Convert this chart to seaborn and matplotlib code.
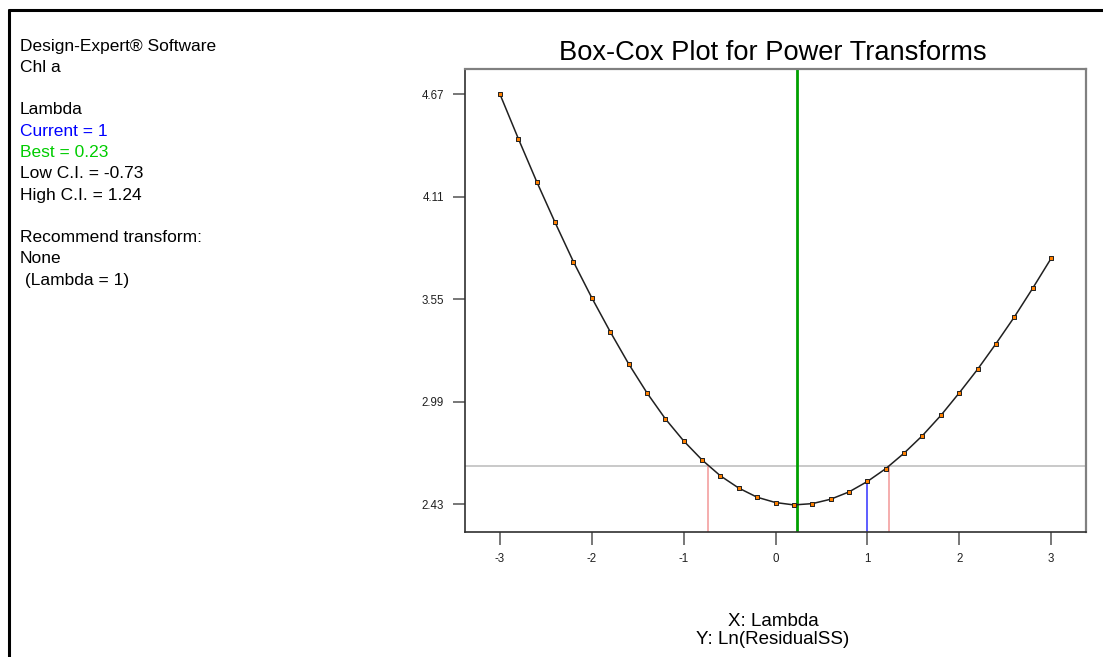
import numpy as np
import pandas as pd
import matplotlib
matplotlib.use("Agg")
import matplotlib.pyplot as plt
from matplotlib.lines import Line2D
import seaborn as sns

# Box-Cox profile: ln(residual SS) against lambda
lambdas = [-3.0, -2.8, -2.6, -2.4, -2.2, -2.0, -1.8, -1.6, -1.4, -1.2, -1.0,
           -0.8, -0.6, -0.4, -0.2, 0.0, 0.2, 0.4, 0.6, 0.8, 1.0,
           1.2, 1.4, 1.6, 1.8, 2.0, 2.2, 2.4, 2.6, 2.8, 3.0]
ln_residual_ss = [4.670, 4.427, 4.192, 3.969, 3.754, 3.557, 3.372, 3.197, 3.038, 2.896, 2.775,
                  2.671, 2.584, 2.517, 2.467, 2.438, 2.425, 2.432, 2.456, 2.496, 2.553,
                  2.623, 2.708, 2.804, 2.914, 3.037, 3.166, 3.306, 3.452, 3.609, 3.772]

x_ticks = [-3, -2, -1, 0, 1, 2, 3]
y_ticks = [2.43, 2.99, 3.55, 4.11, 4.67]

lambda_current = 1.0
lambda_best = 0.23
ci_low = -0.73
ci_high = 1.24
ci_threshold = 2.638
current_value = 2.553

info_lines = [
    ("Design-Expert\u00ae Software", "#000000"),
    ("Chl a", "#000000"),
    ("", "#000000"),
    ("Lambda", "#000000"),
    ("Current = 1", "#0000ff"),
    ("Best = 0.23", "#00cc00"),
    ("Low C.I. = -0.73", "#000000"),
    ("High C.I. = 1.24", "#000000"),
    ("", "#000000"),
    ("Recommend transform:", "#000000"),
    ("None", "#000000"),
    (" (Lambda = 1)", "#000000"),
]

sns.set_theme(style="white")
plt.rcParams["font.family"] = ["Liberation Sans", "DejaVu Sans"]

df = pd.DataFrame({"lambda": lambdas, "lnrss": ln_residual_ss})

fig = plt.figure(figsize=(11.03, 6.57), dpi=100)
W, H = 1103, 657
ax = fig.add_axes([465 / W, 1 - 532 / H, (1086 - 465) / W, (532 - 69) / H])

ax.set_xlim(-3.38, 3.38)
ax.set_ylim(2.277, 4.807)

# reference lines
ax.axhline(ci_threshold, color="#c0c0c0", lw=1.2, zorder=1)
ax.axvline(lambda_best, color="#00a000", lw=2.0, zorder=2)
ymin = ax.get_ylim()[0]
ax.plot([ci_low, ci_low], [ymin, ci_threshold], color="#f4a0a0", lw=1.2, zorder=1)
ax.plot([ci_high, ci_high], [ymin, ci_threshold], color="#f4a0a0", lw=1.2, zorder=1)
ax.plot([lambda_current, lambda_current], [ymin, current_value], color="#5050ff", lw=1.3, zorder=1)

# profile curve and points
sns.lineplot(data=df, x="lambda", y="lnrss", ax=ax, color="#202020", lw=1.1,
             zorder=3, legend=False)
sns.scatterplot(data=df, x="lambda", y="lnrss", ax=ax, marker="s", s=11,
                color="#ff8000", edgecolor="#202020", linewidth=0.7, zorder=4,
                legend=False)

ax.set_xticks(x_ticks)
ax.set_xticklabels([str(t) for t in x_ticks])
ax.set_yticks(y_ticks)
ax.set_yticklabels([f"{t:.2f}" for t in y_ticks])
ax.tick_params(axis="both", direction="out", length=9, width=1.2,
               color="#606060", labelsize=8.3, labelcolor="#202020",
               bottom=True, left=True, pad=6)
ax.set_xlabel("")
ax.set_ylabel("")
for side in ["left", "bottom"]:
    ax.spines[side].set_color("#303030")
    ax.spines[side].set_linewidth(1.2)
for side in ["top", "right"]:
    ax.spines[side].set_color("#808080")
    ax.spines[side].set_linewidth(1.6)

fig.text(773 / W, 1 - 53 / H, "Box-Cox Plot for Power Transforms",
         ha="center", va="center", fontsize=19.6, color="#000000")
fig.text(773 / W, 1 - 621 / H, "X: Lambda", ha="center", va="center",
         fontsize=13.5, color="#000000")
fig.text(773 / W, 1 - 639 / H, "Y: Ln(ResidualSS)", ha="center", va="center",
         fontsize=13.5, color="#000000")

y0 = 46
for i, (txt, col) in enumerate(info_lines):
    if txt:
        fig.text(20 / W, 1 - (y0 + i * 21.3) / H, txt, ha="left", va="center",
                 fontsize=12.5, color=col)

# outer frame (top and left edges)
fig.add_artist(Line2D([9 / W, 1.0], [1 - 10 / H, 1 - 10 / H], color="black",
                      lw=2.2, transform=fig.transFigure))
fig.add_artist(Line2D([9 / W, 9 / W], [1 - 10 / H, 0.0], color="black",
                      lw=2.2, transform=fig.transFigure))

fig.savefig("out.png", dpi=100, facecolor="white")
